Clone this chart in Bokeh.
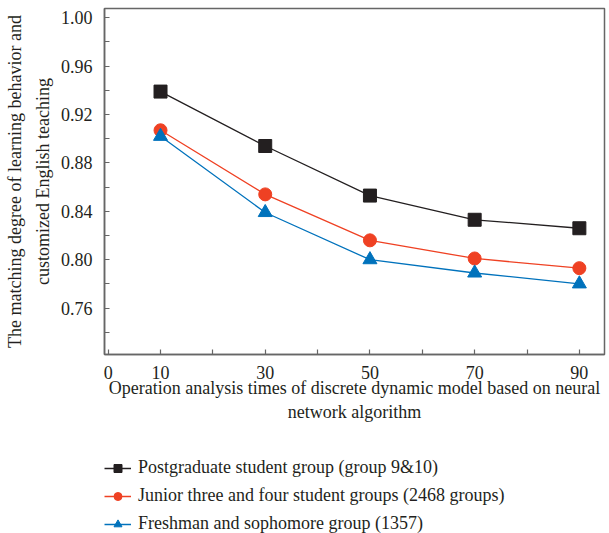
from bokeh.plotting import figure
from bokeh.layouts import column
from bokeh.models import FixedTicker, Legend, LegendItem, Range1d, ColumnDataSource
from bokeh.embed import file_html
from bokeh.resources import INLINE

# ---- data ----
x_vals = [10, 30, 50, 70, 90]
postgraduate = [0.939, 0.894, 0.853, 0.833, 0.826]
junior = [0.907, 0.854, 0.816, 0.801, 0.793]
freshman = [0.902, 0.839, 0.800, 0.789, 0.780]
series_names = [
    "Postgraduate student group (group 9&10)",
    "Junior three and four student groups (2468 groups)",
    "Freshman and sophomore group (1357)",
]
x_tick_vals = [0, 10, 30, 50, 70, 90]
x_minor_vals = [20, 40, 60, 80]
y_tick_vals = [0.76, 0.80, 0.84, 0.88, 0.92, 0.96, 1.00]
y_minor_vals = [0.74, 0.78, 0.82, 0.86, 0.90, 0.94, 0.98]
y_tick_labels = {0.76: "0.76", 0.80: "0.80", 0.84: "0.84", 0.88: "0.88",
                 0.92: "0.92", 0.96: "0.96", 1.00: "1.00"}
x_label = "Operation analysis times of discrete dynamic model based on neural\nnetwork algorithm"
y_label = "The matching degree of learning behavior and\ncustomized English teaching"

FONT = "Liberation Serif"
TXT = "#231f20"
AX = "#666666"
colors = ["#231f20", "#ef4123", "#0072bc"]
markers = ["square", "circle", "triangle"]
series = [postgraduate, junior, freshman]

p = figure(width=609, height=440, output_backend="svg", toolbar_location=None,
           x_range=Range1d(-0.7, 94.8), y_range=Range1d(0.7216, 1.0077),
           min_border_left=104, min_border_right=5, min_border_top=8,
           min_border_bottom=86)
p.grid.visible = False
p.outline_line_color = AX
p.outline_line_width = 1.5
p.background_fill_color = "white"
p.border_fill_color = "white"

for ax in (p.xaxis[0], p.yaxis[0]):
    ax.axis_line_color = AX
    ax.axis_line_width = 1.5
    ax.major_tick_line_color = AX
    ax.minor_tick_line_color = AX
    ax.major_tick_line_width = 1.2
    ax.minor_tick_line_width = 1.2
    ax.major_tick_in = 5
    ax.major_tick_out = 0
    ax.minor_tick_in = 5
    ax.minor_tick_out = 0
    ax.major_label_text_font = FONT
    ax.major_label_text_font_size = "18px"
    ax.major_label_text_color = TXT
    ax.axis_label_text_font = FONT
    ax.axis_label_text_font_size = "18px"
    ax.axis_label_text_font_style = "normal"
    ax.axis_label_text_color = TXT

p.xaxis.ticker = FixedTicker(ticks=x_tick_vals, minor_ticks=x_minor_vals)
p.yaxis.ticker = FixedTicker(ticks=y_tick_vals, minor_ticks=y_minor_vals)
p.yaxis.major_label_overrides = y_tick_labels
p.xaxis.axis_label = x_label
p.yaxis.axis_label = y_label
p.xaxis.axis_label_text_line_height = 1.21
p.yaxis.axis_label_text_line_height = 1.4
p.xaxis.major_label_standoff = 11
p.yaxis.major_label_standoff = 12
p.xaxis.axis_label_standoff = -4
p.yaxis.axis_label_standoff = 5

for ys, c, m in zip(series, colors, markers):
    src = ColumnDataSource(dict(x=x_vals, y=ys))
    p.line("x", "y", source=src, line_color=c, line_width=1.3)
    p.scatter("x", "y", source=src, marker=m, size=14 if m == "triangle" else 13,
              fill_color=c, line_color=c)

# ---- legend panel below the chart ----
pl = figure(width=609, height=93, output_backend="svg", toolbar_location=None,
            x_range=Range1d(0, 1), y_range=Range1d(0, 1),
            x_axis_location=None, y_axis_location=None,
            min_border_left=103, min_border_top=17, min_border_right=0,
            min_border_bottom=0)
pl.grid.visible = False
pl.outline_line_color = None
pl.background_fill_color = "white"
pl.border_fill_color = "white"

items = []
for name, c, m in zip(series_names, colors, markers):
    dummy = ColumnDataSource(dict(x=[float("nan")], y=[float("nan")]))
    lr = pl.line("x", "y", source=dummy, line_color=c, line_width=1.5)
    sr = pl.scatter("x", "y", source=dummy, marker=m, size=9, fill_color=c, line_color=c)
    items.append(LegendItem(label=name, renderers=[lr, sr]))

legend = Legend(items=items, location="top_left", orientation="vertical",
                label_text_font=FONT, label_text_font_size="18px",
                label_text_color=TXT, glyph_width=27, glyph_height=20,
                label_height=20, spacing=7, label_standoff=7, padding=0,
                margin=0, border_line_color=None, background_fill_alpha=0)
pl.add_layout(legend, "center")

layout = column(p, pl, spacing=0)
open("out.html", "w").write(file_html(layout, INLINE))
